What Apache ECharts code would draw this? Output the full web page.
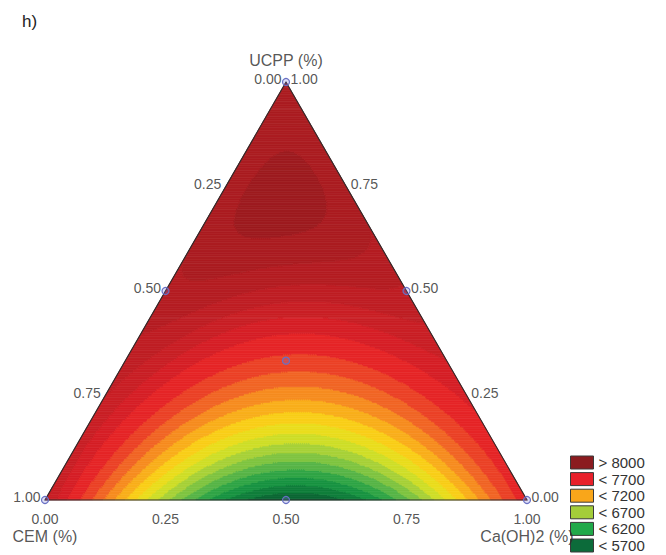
<!DOCTYPE html>
<html>
<head>
<meta charset="utf-8">
<script src="https://cdn.jsdelivr.net/npm/echarts@6/dist/echarts.min.js"></script>
<style>
  html, body { margin: 0; padding: 0; background: #fff; }
  #chart { width: 666px; height: 555px; }
</style>
</head>
<body>
<div id="chart"></div>
<script>
// Mixture design points (mass fractions) with the measured response
const designCEM   = [1, 0, 0, 0.5, 0.5, 0, 1 / 3];
const designCaOH2 = [0, 1, 0, 0.5, 0, 0.5, 1 / 3];
const designUCPP  = [0, 0, 1, 0, 0.5, 0.5, 1 / 3];
const designValue = [8000, 7750, 8140, 5550, 8080, 8030, 7600];

// Additional check points at the quarter compositions of each edge
const checkCEM   = [0.75, 0.25, 0.75, 0.25, 0, 0];
const checkCaOH2 = [0.25, 0.75, 0, 0, 0.75, 0.25];
const checkUCPP  = [0, 0, 0.25, 0.75, 0.25, 0.75];
const checkValue = [6500, 6250, 7980, 8120, 7830, 8120];

// Contour levels of the response surface
const contourLevels = [5700, 5850, 6000, 6150, 6300, 6450, 6600, 6750, 6900,
                       7050, 7200, 7350, 7500, 7650, 7800, 7900, 7975, 8040, 8100, 8150];

// Axis ticks (fractions) and legend entries
const tickValues = [0, 0.25, 0.5, 0.75, 1];
const legendLabels = ['> 8000', '< 7700', '< 7200', '< 6700', '< 6200', '< 5700'];

// Styling
const legendColors = ['#8b1b1f', '#e8202a', '#f9a61a', '#a4cd39', '#21a94a', '#0c6b3a'];
const rampColors = ['#0a5a30', '#0e7a3a', '#1d9d46', '#5db847', '#a2cf3b', '#e2e420',
                    '#fbcb17', '#f7931f', '#ee5127', '#e42027', '#c01e24', '#961a1e'];
const RAMP_MIN = 5500, RAMP_MAX = 8250;
const FONT = 'Liberation Sans, Arial, sans-serif';

// ---- Scheffé mixture model (quartic on the edges + ternary blending term) ----
function terms(a, b, c) {
  return [a, b, c,
          a * b, a * c, b * c,
          a * b * (a - b), a * c * (a - c), b * c * (b - c),
          a * b * (a - b) ** 2, a * c * (a - c) ** 2, b * c * (b - c) ** 2,
          a * b * c];
}

function solveLinear(A, y) {
  const n = y.length;
  const M = A.map((row, i) => row.concat([y[i]]));
  for (let col = 0; col < n; col++) {
    let piv = col;
    for (let r = col + 1; r < n; r++) if (Math.abs(M[r][col]) > Math.abs(M[piv][col])) piv = r;
    [M[col], M[piv]] = [M[piv], M[col]];
    for (let r = 0; r < n; r++) {
      if (r === col) continue;
      const f = M[r][col] / M[col][col];
      for (let k = col; k <= n; k++) M[r][k] -= f * M[col][k];
    }
  }
  return M.map((row, i) => row[n] / row[i]);
}

const fitCEM = designCEM.concat(checkCEM);
const fitCa = designCaOH2.concat(checkCaOH2);
const fitU = designUCPP.concat(checkUCPP);
const fitY = designValue.concat(checkValue);
const coef = solveLinear(fitCEM.map((a, i) => terms(a, fitCa[i], fitU[i])), fitY);

function surface(a, b, c) {
  const t = terms(a, b, c);
  let s = 0;
  for (let i = 0; i < t.length; i++) s += coef[i] * t[i];
  return s;
}

function bandValue(v) {
  let i = 0;
  while (i < contourLevels.length && v >= contourLevels[i]) i++;
  if (i === 0) return contourLevels[0] - 100;
  if (i === contourLevels.length) return contourLevels[i - 1] + 60;
  return (contourLevels[i - 1] + contourLevels[i]) / 2;
}

// Ternary (CEM, Ca(OH)2, UCPP) -> plot plane: x = Ca(OH)2 + UCPP/2, y = UCPP
function toPlane(ca, u) { return [ca + u / 2, u]; }

// ---- Filled contour bands over a triangular lattice, merged in horizontal strips ----
const N = 240;
const bandCells = [];
for (let j = 0; j < N; j++) {
  const M = N - j;
  const count = 2 * M - 1;
  const bandOf = (t) => {
    const k = t >> 1;
    let ca, u;
    if (t % 2 === 0) { ca = (3 * k + 1) / (3 * N); u = (3 * j + 1) / (3 * N); }
    else { ca = (3 * k + 2) / (3 * N); u = (3 * j + 2) / (3 * N); }
    return bandValue(surface(1 - ca - u, ca, u));
  };
  const pushRun = (a, b, band) => {
    const lowerL = Math.ceil(a / 2), upperL = Math.floor(a / 2);
    const lowerR = Math.floor(b / 2) + 1, upperR = Math.ceil(b / 2);
    const p1 = toPlane(lowerL / N, j / N);
    const p2 = toPlane(lowerR / N, j / N);
    const p3 = toPlane(upperR / N, (j + 1) / N);
    const p4 = toPlane(upperL / N, (j + 1) / N);
    bandCells.push([p1[0], p1[1], p2[0], p2[1], p3[0], p3[1], p4[0], p4[1], band]);
  };
  let runStart = 0, runBand = bandOf(0);
  for (let t = 1; t <= count; t++) {
    const b = t < count ? bandOf(t) : null;
    if (b !== runBand) {
      pushRun(runStart, t - 1, runBand);
      runStart = t;
      runBand = b;
    }
  }
}

// Triangle outline and design point markers
const cornerCa = [0, 1, 0];
const cornerU = [0, 0, 1];
const outline = [cornerCa.map((ca, i) => toPlane(ca, cornerU[i])).flat()];
const designPoints = designCaOH2.map((ca, i) => toPlane(ca, designUCPP[i]));

// Tick label anchors on each edge
const cemTicks = tickValues.map(t => toPlane(0, 1 - t).concat([t]));   // left edge
const ucppTicks = tickValues.map(t => toPlane(1 - t, t).concat([t]));  // right edge
const caTicks = tickValues.map(t => toPlane(t, 0).concat([t]));        // bottom edge

const tickLabel = (pos, dist, offset) => ({
  show: true, position: pos, distance: dist, offset: offset,
  formatter: p => p.value[2].toFixed(2),
  fontFamily: FONT, fontSize: 14, color: '#2a2a2a'
});

const tickSeries = (data, label) => ({
  type: 'scatter', data, symbolSize: 1, silent: true, z: 6,
  itemStyle: { color: 'rgba(0,0,0,0)' }, label, emphasis: { disabled: true }
});

const chart = echarts.init(document.getElementById('chart'), null, { renderer: 'svg' });

const legendSeries = legendLabels.map((name, i) => ({
  type: 'scatter', name, data: [], itemStyle: { color: legendColors[i], opacity: 1 }
}));

chart.setOption({
  animation: false,
  backgroundColor: '#fff',
  title: {
    text: 'h)', left: 22, top: 13, padding: 0,
    textStyle: { fontFamily: FONT, fontSize: 17, fontWeight: 'normal', color: '#222' }
  },
  grid: { left: 45, top: 82, width: 482, height: 418 },
  xAxis: { type: 'value', min: 0, max: 1, show: false },
  yAxis: { type: 'value', min: 0, max: 1, show: false },
  legend: {
    data: legendLabels, orient: 'vertical', left: 570, top: 455, padding: 0,
    width: 90, height: 140,
    itemWidth: 23, itemHeight: 13, itemGap: 1.6, icon: 'rect',
    selectedMode: false,
    itemStyle: { borderColor: '#3a3a3a', borderWidth: 1, opacity: 1 },
    textStyle: { fontFamily: FONT, fontSize: 15, color: '#333' }
  },
  visualMap: {
    type: 'continuous', show: false, seriesIndex: 0, dimension: 8,
    min: RAMP_MIN, max: RAMP_MAX, inRange: { color: rampColors }
  },
  series: [
    {
      type: 'custom', data: bandCells, silent: true, clip: false, z: 1,
      encode: { x: 0, y: 1 },
      renderItem(params, api) {
        const pts = [];
        for (let i = 0; i < 4; i++) pts.push(api.coord([api.value(2 * i), api.value(2 * i + 1)]));
        const c = api.visual('color');
        return { type: 'polygon', shape: { points: pts }, style: { fill: c, stroke: c, lineWidth: 0.7 } };
      }
    },
    {
      type: 'custom', data: outline, silent: true, clip: false, z: 3,
      renderItem(params, api) {
        const pts = [];
        for (let i = 0; i < 3; i++) pts.push(api.coord([api.value(2 * i), api.value(2 * i + 1)]));
        return { type: 'polygon', shape: { points: pts }, style: { fill: 'none', stroke: '#2b2b2b', lineWidth: 1.1 } };
      }
    },
    {
      type: 'scatter', data: designPoints, symbol: 'circle', symbolSize: 7, silent: true, z: 5,
      itemStyle: { color: 'rgba(120,120,215,0.25)', borderColor: '#6870c4', borderWidth: 1.2, opacity: 1 }
    },
    tickSeries(cemTicks, tickLabel('left', 4, [0, -3])),
    tickSeries(ucppTicks, tickLabel('right', 4, [0, -3])),
    tickSeries(caTicks, tickLabel('bottom', 11, [0, 0])),
    {
      type: 'scatter', symbolSize: 1, silent: true, z: 6,
      itemStyle: { color: 'rgba(0,0,0,0)' },
      data: [
        { value: toPlane(0, 1), label: { position: 'top', distance: 13, formatter: 'UCPP (%)' } },
        { value: toPlane(0, 0), label: { position: 'bottom', distance: 28, formatter: 'CEM (%)' } },
        { value: toPlane(1, 0), label: { position: 'bottom', distance: 28, formatter: 'Ca(OH)2 (%)' } }
      ],
      label: { show: true, fontFamily: FONT, fontSize: 16, color: '#2a2a2a' }
    }
  ].concat(legendSeries)
});
</script>
</body>
</html>
